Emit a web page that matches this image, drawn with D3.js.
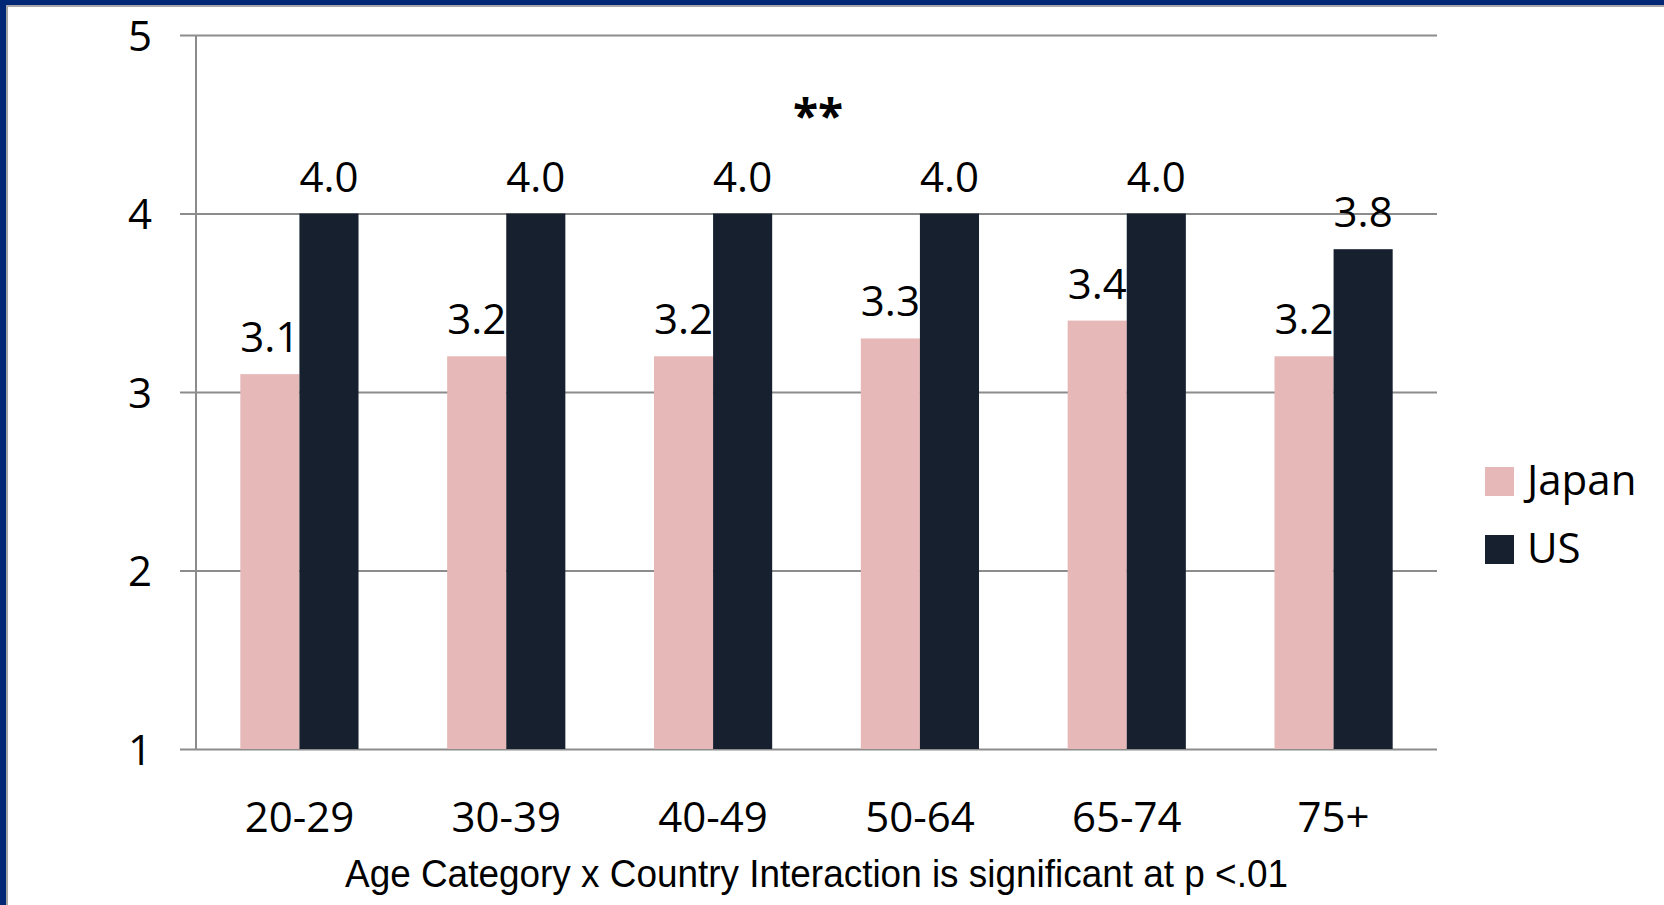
<!DOCTYPE html>
<html>
<head>
<meta charset="utf-8">
<script src="https://cdn.jsdelivr.net/npm/d3@7"></script>
<style>
  html, body { margin: 0; padding: 0; background: #ffffff; }
  svg { display: block; }
</style>
</head>
<body>
<svg id="chart" width="1664" height="905"></svg>
<script>
// Mean scores by age category for each country
const categories = ["20-29", "30-39", "40-49", "50-64", "65-74", "75+"];
const seriesNames = ["Japan", "US"];
const japanValues = [3.1, 3.2, 3.2, 3.3, 3.4, 3.2];
const usValues = [4.0, 4.0, 4.0, 4.0, 4.0, 3.8];
const yTicks = [1, 2, 3, 4, 5];
const significanceMark = "**";
const footnote = "Age Category x Country Interaction is significant at p <.01";

const colors = { Japan: "#e6b8b7", US: "#16202f" };
const font = "'Open Sans', 'Noto Sans', sans-serif";

const svg = d3.select("#chart");
const W = 1664, H = 905;

// slide frame: blue band with thin grey rule on top and left edges
svg.append("rect").attr("x", 0).attr("y", 0).attr("width", W).attr("height", H).attr("fill", "#ffffff");
svg.append("rect").attr("x", 0).attr("y", 0).attr("width", W).attr("height", 5).attr("fill", "#002776");
svg.append("rect").attr("x", 0).attr("y", 5).attr("width", W).attr("height", 2).attr("fill", "#a6a6a6");
svg.append("rect").attr("x", 0).attr("y", 0).attr("width", 6).attr("height", H).attr("fill", "#002776");
svg.append("rect").attr("x", 6).attr("y", 5).attr("width", 2).attr("height", H).attr("fill", "#a6a6a6");

const plot = { left: 196, right: 1437, top: 35, bottom: 749 };

const x0 = d3.scaleBand().domain(categories).range([plot.left, plot.right]).padding(0);
const x1 = d3.scaleBand().domain(seriesNames).range([0, x0.bandwidth()]).paddingInner(0).paddingOuter(0.75);
const y = d3.scaleLinear().domain([1, 5]).range([plot.bottom, plot.top]);

const rows = categories.map((c, i) => ({ cat: c, Japan: japanValues[i], US: usValues[i] }));

// gridlines with short outer ticks to the left of the axis
const grid = svg.append("g")
  .attr("transform", `translate(${plot.left},0)`)
  .call(d3.axisLeft(y).tickValues(yTicks).tickSizeInner(-(plot.right - plot.left)).tickSizeOuter(0).tickFormat(""));
grid.select(".domain").remove();
grid.selectAll(".tick line").attr("stroke", "#8c8c8c").attr("stroke-width", 2);
grid.selectAll(".tick").append("line")
  .attr("x1", -16).attr("x2", 0).attr("stroke", "#8c8c8c").attr("stroke-width", 2);

// y tick labels
const yAxis = svg.append("g")
  .attr("transform", `translate(${plot.left - 44},0)`)
  .call(d3.axisLeft(y).tickValues(yTicks).tickSize(0).tickFormat(d3.format("d")));
yAxis.select(".domain").remove();
yAxis.selectAll("text")
  .attr("font-family", font).attr("font-size", 42).attr("fill", "#000")
  .attr("text-anchor", "end").attr("x", 0).attr("dy", "0.36em");

// bars
const groups = svg.append("g").selectAll("g")
  .data(rows).join("g")
  .attr("transform", d => `translate(${x0(d.cat)},0)`);

groups.selectAll("rect")
  .data(d => seriesNames.map(k => ({ key: k, value: d[k] })))
  .join("rect")
  .attr("x", d => x1(d.key))
  .attr("y", d => y(d.value))
  .attr("width", x1.bandwidth())
  .attr("height", d => y(1) - y(d.value))
  .attr("fill", d => colors[d.key]);

// value labels above bars
groups.selectAll("text")
  .data(d => seriesNames.map(k => ({ key: k, value: d[k] })))
  .join("text")
  .attr("x", d => x1(d.key) + x1.bandwidth() / 2)
  .attr("y", d => y(d.value) - 22)
  .attr("text-anchor", "middle")
  .attr("font-family", font).attr("font-size", 42).attr("fill", "#000")
  .text(d => d3.format(".1f")(d.value));

// y axis line
svg.append("line")
  .attr("x1", plot.left).attr("x2", plot.left)
  .attr("y1", y(5)).attr("y2", y(1))
  .attr("stroke", "#8c8c8c").attr("stroke-width", 2);

// x category labels
const xAxis = svg.append("g")
  .attr("transform", `translate(0,${plot.bottom})`)
  .call(d3.axisBottom(x0).tickSize(0).tickSizeOuter(0));
xAxis.select(".domain").remove();
xAxis.selectAll("text")
  .attr("font-family", font).attr("font-size", 42).attr("fill", "#000")
  .attr("y", 0).attr("dy", 0)
  .attr("transform", "translate(0,83)");

// significance marker
svg.append("text")
  .attr("x", 818).attr("y", 133)
  .attr("text-anchor", "middle")
  .attr("font-family", font).attr("font-weight", "bold").attr("font-size", 46)
  .attr("fill", "#000")
  .text(significanceMark);

// legend
const legend = svg.append("g").attr("transform", "translate(1485,467)");
seriesNames.forEach((name, i) => {
  const g = legend.append("g").attr("transform", `translate(0,${i * 68})`);
  g.append("rect").attr("width", 29).attr("height", 29).attr("fill", colors[name]);
  g.append("text")
    .attr("x", 42).attr("y", 28)
    .attr("font-family", font).attr("font-size", 42).attr("fill", "#000")
    .text(name);
});

// footnote (narrow, tightly set)
svg.append("text")
  .attr("x", 345).attr("y", 887)
  .attr("font-family", "'Liberation Sans', Arial, sans-serif").attr("font-size", 38)
  .attr("fill", "#000")
  .attr("textLength", 943).attr("lengthAdjust", "spacingAndGlyphs")
  .text(footnote);
</script>
</body>
</html>
